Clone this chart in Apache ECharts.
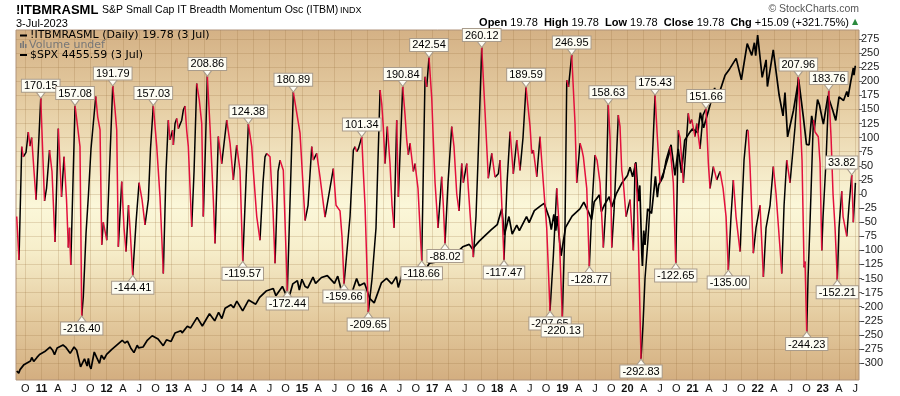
<!DOCTYPE html>
<html>
<head>
<meta charset="utf-8">
<script src="https://cdn.jsdelivr.net/npm/echarts@6/dist/echarts.min.js"></script>
<style>
html, body { margin: 0; padding: 0; background: #fff; }
#main { width: 900px; height: 396px; }
</style>
</head>
<body>
<div id="main"></div>
<script>
// oscillator, x in decimal years
var oscDates = [
	2010.619, 2010.654, 2010.696, 2010.720, 2010.762, 2010.797, 2010.823, 2010.849, 2010.885, 2010.916,
	2010.988, 2011.046, 2011.077, 2011.123, 2011.161, 2011.207, 2011.258, 2011.307, 2011.346, 2011.384,
	2011.412, 2011.430, 2011.449, 2011.515, 2011.591, 2011.618,
	2011.642, 2011.684, 2011.719, 2011.760, 2011.833, 2011.863, 2011.899, 2011.925, 2011.949, 2012.002,
	2012.094, 2012.129, 2012.155, 2012.180, 2012.232, 2012.267, 2012.298, 2012.336, 2012.359, 2012.401,
	2012.452, 2012.498, 2012.544, 2012.590, 2012.641, 2012.674, 2012.717, 2012.770, 2012.820, 2012.871,
	2012.912, 2012.948, 2012.974, 2013.012, 2013.025, 2013.051, 2013.077, 2013.101, 2013.154, 2013.178,
	2013.204, 2013.230, 2013.255, 2013.307, 2013.343, 2013.384, 2013.424, 2013.461, 2013.485, 2013.512,
	2013.547,
	2013.588, 2013.639, 2013.665, 2013.716, 2013.768, 2013.845, 2013.896, 2013.946, 2013.998, 2014.049,
	2014.091, 2014.177, 2014.229, 2014.253, 2014.306, 2014.356, 2014.402, 2014.433, 2014.459, 2014.510,
	2014.556, 2014.587, 2014.633, 2014.664, 2014.714, 2014.776, 2014.868,
	2014.971, 2015.048, 2015.094, 2015.151, 2015.175, 2015.227, 2015.278, 2015.355, 2015.401, 2015.482,
	2015.524, 2015.585, 2015.616, 2015.647, 2015.739, 2015.790, 2015.816, 2015.842, 2015.866, 2015.919,
	2015.943, 2015.969, 2016.020, 2016.077, 2016.138, 2016.200, 2016.226, 2016.250, 2016.277, 2016.312,
	2016.353, 2016.384, 2016.415, 2016.456, 2016.481, 2016.548, 2016.584, 2016.610, 2016.634, 2016.661,
	2016.711, 2016.737, 2016.783, 2016.840, 2016.891, 2016.917, 2016.952, 2016.994, 2017.018, 2017.045,
	2017.091, 2017.147, 2017.172, 2017.198, 2017.244, 2017.301, 2017.336, 2017.378, 2017.413, 2017.455,
	2017.479, 2017.532, 2017.556, 2017.598, 2017.633, 2017.674, 2017.705, 2017.762, 2017.813, 2017.863,
	2017.916, 2017.966, 2018.017, 2018.043, 2018.074, 2018.104, 2018.151, 2018.197, 2018.247, 2018.300,
	2018.350, 2018.396, 2018.442, 2018.504, 2018.530, 2018.555, 2018.607, 2018.657, 2018.708, 2018.760,
	2018.811, 2018.862, 2018.914, 2018.942, 2019.000, 2019.042, 2019.068, 2019.095, 2019.144, 2019.195,
	2019.221, 2019.272, 2019.298, 2019.323, 2019.375, 2019.415, 2019.456, 2019.502, 2019.533, 2019.579,
	2019.630, 2019.664, 2019.706, 2019.733, 2019.759, 2019.794, 2019.860, 2019.886, 2019.912, 2019.937,
	2019.979, 2020.040, 2020.091, 2020.117, 2020.147, 2020.171, 2020.209, 2020.240, 2020.270, 2020.316,
	2020.347, 2020.393, 2020.424, 2020.455, 2020.501, 2020.547, 2020.593, 2020.654, 2020.705, 2020.742,
	2020.782, 2020.808, 2020.859, 2020.885, 2020.935, 2020.962, 2020.988, 2021.038, 2021.065, 2021.115,
	2021.161, 2021.207, 2021.243, 2021.269, 2021.320, 2021.372, 2021.422, 2021.469, 2021.515, 2021.550,
	2021.591, 2021.627, 2021.668, 2021.730, 2021.760, 2021.791, 2021.833, 2021.853, 2021.883, 2021.934,
	2021.975, 2022.037, 2022.088, 2022.129, 2022.191, 2022.241, 2022.283, 2022.344, 2022.370, 2022.406,
	2022.447, 2022.498, 2022.575, 2022.625, 2022.682, 2022.713, 2022.728, 2022.754, 2022.774, 2022.805,
	2022.856, 2022.882, 2022.932, 2022.959, 2022.985, 2023.005, 2023.051, 2023.092, 2023.128, 2023.158,
	2023.189, 2023.224, 2023.250, 2023.292, 2023.312, 2023.369, 2023.404, 2023.445, 2023.470, 2023.502
];
var oscValues = [
	-40, -117, 84, 66, 74, 110, 85, 100, 40, -10,
	170.15, -12, 10, 78, 40, -85, 116, -5, 66, -10,
	-95, -60, -126, 157.08, 84, -216.40,
	-182, -69, -5, 80, 173, 137, 114, -90, -50, -82,
	191.79, 150, 114, -93.5, 22, -60, -102, -20, -60, -144.41,
	-50, 20, -10, -55, -10, 80, 157.03, 84, -5, -141,
	40, 131, 96, 113, 87, 125, 134, 116, 131, 149,
	156, 113, 84, -58, 40, 196, 166, 125, -40, 60,
	208.86,
	120, -10, -87.6, 102, 54, 131, 90, 25, 87, 42,
	-119.57, 124.38, 84, 42, -40, -82, 20, 66, 72, 66,
	-30, -123, 40, 60, 42, -172.44, 180.89,
	108, -47, -20, 84, 60, 72, 30, -41, -10, 45,
	-20, -30, -76, -159.66, -40, 78, 84, 75, 80, 101.34,
	40, -20, -209.65, -150, -60, 184.5, 160, 119, 54, 119.5,
	54, -20, -60, 131, -5, 190.84, 140, 96, 70, 90,
	40, 54, 10, -118.66, 208, 190, 242.54, 170, 96, 20,
	-60, 30.6, -20, -88.02, 20, 119.5, 84, 0, -30, 54,
	20, 54, 10, -60, -112, -40, 60, 260.12, 145, 28,
	72, 30, 36, 60, -30, -117.47, 20, 110.6, 36, 95.8,
	42, 100, 189.59, 120, 72, 78, 30.6, 101.6, 20, -60,
	-207.65, -110, 10, -40, -220.13, -50, 202, 190, 246.95, 125,
	20, 90, 80, 66, 10, -128.77, -20, 69, 60, 20,
	-94.8, -30, 158.63, 100, -95, -30, 140, 120, 42.5, 20,
	-40, -10, -100, 54, 0, -100, -292.83, -230, -150, -80,
	-20, 90, 175.43, 110, 20, 30, 60, 84, 20, -122.65,
	113, 100, 20, 60, 143, 125, 132, 102, 125, 80,
	140, 151.66, 54.4, 10, 48.5, 25, 40, 10, -40, -135,
	-40, 24.8, -40, -102, -20, 60, 113, 113, 50, -105,
	-60, -20, -147, -60, -20, 48.5, 0, -97, -141, -20,
	60, 20, 120, 207.96, 60, -130, -120, -244.23, -150, -50,
	131, 110, 101.6, 54, -100, -40, 60, 183.76, 100, 0,
	-60, -152.21, -60, 5, -40, -75, -20, 33.82, -50, 19.78
];

// $SPX overlay
var spxDates = [
	2010.62, 2010.65, 2010.67, 2010.70, 2010.73, 2010.76, 2010.79, 2010.83, 2010.85, 2010.88,
	2010.91, 2010.93, 2010.97, 2011.00, 2011.05, 2011.08, 2011.13, 2011.17, 2011.20, 2011.24,
	2011.33, 2011.37, 2011.40, 2011.44, 2011.47, 2011.50, 2011.54, 2011.57, 2011.60, 2011.63,
	2011.66, 2011.70, 2011.72, 2011.74, 2011.76, 2011.81, 2011.85, 2011.89, 2011.92, 2011.96,
	2012.00, 2012.08, 2012.16, 2012.24, 2012.28, 2012.32, 2012.37, 2012.42, 2012.47, 2012.49,
	2012.56, 2012.62, 2012.70, 2012.79, 2012.87, 2012.92, 2012.99, 2013.05, 2013.14, 2013.16,
	2013.24, 2013.29, 2013.39, 2013.47, 2013.58, 2013.66, 2013.72, 2013.77, 2013.82, 2013.91,
	2013.95, 2014.00, 2014.09, 2014.18, 2014.29, 2014.35, 2014.45, 2014.56, 2014.60, 2014.70,
	2014.79, 2014.86, 2014.93, 2014.96, 2015.00, 2015.05, 2015.09, 2015.17, 2015.21, 2015.30,
	2015.39, 2015.50, 2015.55, 2015.64, 2015.68, 2015.74, 2015.84, 2015.88, 2015.96, 2015.98,
	2016.04, 2016.06, 2016.11, 2016.22, 2016.30, 2016.38, 2016.45, 2016.48, 2016.55, 2016.62,
	2016.70, 2016.74, 2016.84, 2016.91, 2016.96, 2017.05, 2017.16, 2017.29, 2017.40, 2017.47,
	2017.57, 2017.62, 2017.72, 2017.82, 2017.91, 2018.00, 2018.07, 2018.11, 2018.18, 2018.23,
	2018.30, 2018.34, 2018.45, 2018.49, 2018.57, 2018.66, 2018.72, 2018.80, 2018.83, 2018.87,
	2018.90, 2018.92, 2018.98, 2019.05, 2019.15, 2019.27, 2019.33, 2019.41, 2019.45, 2019.49,
	2019.57, 2019.60, 2019.65, 2019.72, 2019.76, 2019.83, 2019.91, 2020.00, 2020.04, 2020.08,
	2020.13, 2020.17, 2020.19, 2020.22, 2020.23, 2020.25, 2020.27, 2020.31, 2020.37, 2020.43,
	2020.46, 2020.48, 2020.55, 2020.64, 2020.67, 2020.73, 2020.78, 2020.83, 2020.88, 2020.96,
	2021.00, 2021.08, 2021.12, 2021.17, 2021.25, 2021.34, 2021.37, 2021.50, 2021.57, 2021.67,
	2021.75, 2021.84, 2021.91, 2021.95, 2021.97, 2022.00, 2022.07, 2022.13, 2022.15, 2022.24,
	2022.33, 2022.39, 2022.42, 2022.46, 2022.55, 2022.63, 2022.70, 2022.75, 2022.79, 2022.83,
	2022.87, 2022.92, 2022.95, 2023.00, 2023.01, 2023.08, 2023.15, 2023.20, 2023.25, 2023.32,
	2023.37, 2023.39, 2023.43, 2023.47, 2023.48, 2023.50
];
var spxValues = [
	1075, 1050, 1090, 1110, 1145, 1140, 1170, 1185, 1225, 1180,
	1190, 1225, 1258, 1258, 1290, 1276, 1340, 1305, 1256, 1330,
	1363, 1340, 1345, 1270, 1268, 1340, 1305, 1292, 1120, 1140,
	1210, 1130, 1215, 1130, 1099, 1285, 1220, 1160, 1250, 1205,
	1258, 1315, 1365, 1415, 1385, 1405, 1330, 1278, 1360, 1330,
	1340, 1410, 1465, 1430, 1355, 1420, 1402, 1495, 1520, 1497,
	1570, 1552, 1669, 1573, 1709, 1630, 1725, 1655, 1770, 1808,
	1775, 1848, 1741, 1860, 1815, 1890, 1960, 1988, 1909, 2011,
	1862, 2040, 2075, 1972, 2090, 2010, 1995, 2115, 2045, 2110,
	2131, 2045, 2125, 1867, 1990, 1880, 2100, 2020, 2050, 2010,
	1880, 1860, 1829, 2050, 2100, 2040, 2120, 2000, 2175, 2190,
	2127, 2170, 2085, 2210, 2270, 2280, 2395, 2330, 2400, 2450,
	2477, 2425, 2510, 2580, 2640, 2695, 2873, 2581, 2785, 2590,
	2690, 2630, 2785, 2717, 2850, 2900, 2931, 2770, 2640, 2810,
	2630, 2790, 2351, 2665, 2790, 2870, 2945, 2822, 2750, 2950,
	3025, 2840, 2920, 3005, 2890, 3040, 3150, 3240, 3330, 3225,
	3386, 2954, 3130, 2386, 2237, 2630, 2470, 2870, 2820, 3230,
	3000, 3130, 3260, 3480, 3580, 3240, 3535, 3270, 3630, 3720,
	3756, 3714, 3935, 3768, 3970, 4210, 4063, 4350, 4420, 4537,
	4300, 4700, 4570, 4710, 4568, 4796, 4326, 4520, 4225, 4630,
	4131, 3900, 4158, 3667, 3960, 4305, 3900, 3585, 3577, 3900,
	3750, 4080, 4020, 3840, 3810, 4120, 3970, 3850, 4110, 4070,
	4170, 4110, 4280, 4430, 4350, 4455
];

// labelled extremes
var peakDates = [2010.988, 2011.515, 2012.094, 2012.717, 2013.547, 2014.177, 2014.868, 2015.919, 2016.548, 2016.952,
	2017.762, 2018.442, 2019.144, 2019.706, 2020.424, 2021.207, 2022.625, 2023.092, 2023.445];
var peakValues = [170.15, 157.08, 191.79, 157.03, 208.86, 124.38, 180.89, 101.34, 190.84, 242.54,
	260.12, 189.59, 246.95, 158.63, 175.43, 151.66, 207.96, 183.76, 33.82];
var troughDates = [2011.618, 2012.401, 2014.091, 2014.776, 2015.647, 2016.020, 2016.840, 2017.198, 2018.104, 2018.811,
	2019.000, 2019.415, 2020.209, 2020.742, 2021.550, 2022.754, 2023.224];
var troughValues = [-216.40, -144.41, -119.57, -172.44, -159.66, -209.65, -118.66, -88.02, -117.47, -207.65,
	-220.13, -128.77, -292.83, -122.65, -135.00, -244.23, -152.21];

// axis ticks
var xTickValues = [2010.75,
	2011, 2011.25, 2011.5, 2011.75, 2012, 2012.25, 2012.5, 2012.75, 2013, 2013.25, 2013.5, 2013.75,
	2014, 2014.25, 2014.5, 2014.75, 2015, 2015.25, 2015.5, 2015.75, 2016, 2016.25, 2016.5, 2016.75,
	2017, 2017.25, 2017.5, 2017.75, 2018, 2018.25, 2018.5, 2018.75, 2019, 2019.25, 2019.5, 2019.75,
	2020, 2020.25, 2020.5, 2020.75, 2021, 2021.25, 2021.5, 2021.75, 2022, 2022.25, 2022.5, 2022.75,
	2023, 2023.25, 2023.5];
var xTickLabels = ['O',
	'11', 'A', 'J', 'O', '12', 'A', 'J', 'O', '13', 'A', 'J', 'O',
	'14', 'A', 'J', 'O', '15', 'A', 'J', 'O', '16', 'A', 'J', 'O',
	'17', 'A', 'J', 'O', '18', 'A', 'J', 'O', '19', 'A', 'J', 'O',
	'20', 'A', 'J', 'O', '21', 'A', 'J', 'O', '22', 'A', 'J', 'O',
	'23', 'A', 'J'];
var yTickValues = [-300, -275, -250, -225, -200, -175, -150, -125, -100, -75, -50, -25,
	0, 25, 50, 75, 100, 125, 150, 175, 200, 225, 250, 275];

// split the oscillator into rising (black) and falling (red) pieces
function segments(rising) {
	var out = [];
	var lastIdx = -2;
	for (var i = 1; i < oscDates.length; i++) {
		var up = oscValues[i] >= oscValues[i - 1];
		if (up !== rising) continue;
		if (lastIdx !== i - 1) {
			if (out.length) out.push([oscDates[i - 1], '-']);
			out.push([oscDates[i - 1], oscValues[i - 1]]);
		}
		out.push([oscDates[i], oscValues[i]]);
		lastIdx = i;
	}
	return out;
}

var spxData = [];
for (var i = 0; i < spxDates.length; i++) {
	spxData.push([spxDates[i], spxValues[i]]);
}

var peakData = [];
for (var i = 0; i < peakDates.length; i++) {
	var item = { value: [peakDates[i], peakValues[i]] };
	// last box is pushed left so it stays inside the plot
	if (i === peakDates.length - 1) item.label = { offset: [-10, 0] };
	peakData.push(item);
}
var troughData = [];
for (var i = 0; i < troughDates.length; i++) {
	troughData.push({ value: [troughDates[i], troughValues[i]] });
}

var boxFill = '#fdfcf2';
var boxLine = '#a99c8c';
var labelFont = '"Liberation Sans Narrow", "Liberation Sans", Arial, sans-serif';
var boxLabel = {
	show: true,
	distance: 0,
	formatter: function (p) { return p.value[1].toFixed(2); },
	backgroundColor: boxFill,
	borderColor: boxLine,
	borderWidth: 1,
	padding: [1, 2, 0, 2],
	color: '#000',
	fontSize: 11,
	lineHeight: 11,
	fontFamily: labelFont
};

var myChart = echarts.init(document.getElementById('main'));

var option = {
	animation: false,
	grid: {
		left: 16,
		right: 41,
		top: 30,
		bottom: 16,
		show: true,
		borderColor: '#b0937a',
		borderWidth: 1,
		backgroundColor: {
			type: 'linear', x: 0, y: 0, x2: 0, y2: 1,
			colorStops: [
				{ offset: 0, color: '#d4b185' },
				{ offset: 0.22, color: '#e6cea4' },
				{ offset: 0.5, color: '#fbf7d9' },
				{ offset: 0.62, color: '#f7efcc' },
				{ offset: 0.82, color: '#e4cb9f' },
				{ offset: 1, color: '#d3ae80' }
			]
		}
	},
	xAxis: {
		type: 'value',
		min: 2010.608,
		max: 2023.557,
		axisLine: { show: false },
		axisTick: { show: false, customValues: xTickValues },
		axisLabel: {
			customValues: xTickValues,
			margin: 3,
			color: '#111',
			fontSize: 11,
			fontFamily: '"Liberation Sans", Arial, sans-serif',
			formatter: function (v) {
				for (var j = 0; j < xTickValues.length; j++) {
					if (Math.abs(xTickValues[j] - v) < 1e-6) {
						var s = xTickLabels[j];
						return /\d/.test(s) ? '{y|' + s + '}' : s;
					}
				}
				return '';
			},
			rich: { y: { fontWeight: 'bold', fontSize: 11 } }
		},
		splitLine: { show: true, lineStyle: { color: 'rgba(150,110,60,0.22)', width: 1 } }
	},
	yAxis: [{
		type: 'value',
		position: 'right',
		min: -330,
		max: 291,
		axisLine: { show: false },
		axisTick: { show: true, length: 3, customValues: yTickValues, lineStyle: { color: '#666' } },
		axisLabel: {
			customValues: yTickValues,
			margin: 2,
			color: '#222',
			fontSize: 11,
			fontFamily: '"Liberation Sans", Arial, sans-serif'
		},
		splitLine: { show: true, lineStyle: { color: 'rgba(150,110,60,0.22)', width: 1 } }
	}, {
		type: 'value',
		show: false,
		min: 975,
		max: 4851
	}],
	graphic: [
		{ type: 'text', x: 16, y: 10.5, z: 100, style: { text: '!ITBMRASML', font: 'bold 13px "Liberation Sans", Arial', fill: '#000', verticalAlign: 'middle' } },
		{ type: 'text', x: 102, y: 10.5, z: 100, style: { text: 'S&P Small Cap IT Breadth Momentum Osc (ITBM)', font: '10.5px "Liberation Sans", Arial', fill: '#000', verticalAlign: 'middle' } },
		{ type: 'text', x: 340, y: 11, z: 100, style: { text: 'INDX', font: '9px "Liberation Sans", Arial', fill: '#000', verticalAlign: 'middle' } },
		{ type: 'text', x: 16, y: 23.5, z: 100, style: { text: '3-Jul-2023', font: '11px "Liberation Sans", Arial', fill: '#000', verticalAlign: 'middle' } },
		{ type: 'text', x: 859, y: 9, z: 100, style: { text: '\u00a9 StockCharts.com', font: '10.5px "Liberation Sans", Arial', fill: '#555', align: 'right', verticalAlign: 'middle' } },
		{
			type: 'text', x: 849, y: 22.5, z: 100,
			style: {
				text: '{b|Open} 19.78  {b|High} 19.78  {b|Low} 19.78  {b|Close} 19.78  {b|Chg} +15.09 (+321.75%)',
				font: '11px "Liberation Sans", Arial', fill: '#000', align: 'right', verticalAlign: 'middle',
				rich: { b: { fontWeight: 'bold', fontSize: 11, fontFamily: '"Liberation Sans", Arial' } }
			}
		},
		{ type: 'text', x: 855, y: 22, z: 100, style: { text: '\u25b2', font: '8px "DejaVu Sans"', fill: '#2b8a3e', align: 'center', verticalAlign: 'middle' } },
		// legend inside the plot
		{ type: 'rect', z: 100, shape: { x: 20, y: 34.5, width: 7, height: 2 }, style: { fill: '#000' } },
		{ type: 'text', x: 30, y: 35.5, z: 100, style: { text: '!ITBMRASML (Daily) 19.78 (3 Jul)', font: '11px "DejaVu Sans"', fill: '#000', verticalAlign: 'middle' } },
		{ type: 'rect', z: 100, shape: { x: 20, y: 43, width: 1.5, height: 5 }, style: { fill: '#777' } },
		{ type: 'rect', z: 100, shape: { x: 22.5, y: 41, width: 1.5, height: 7 }, style: { fill: '#777' } },
		{ type: 'rect', z: 100, shape: { x: 25, y: 44, width: 1.5, height: 4 }, style: { fill: '#777' } },
		{ type: 'text', x: 29, y: 45.5, z: 100, style: { text: 'Volume undef', font: '11px "DejaVu Sans"', fill: '#777', verticalAlign: 'middle' } },
		{ type: 'rect', z: 100, shape: { x: 20, y: 54, width: 7, height: 2 }, style: { fill: '#000' } },
		{ type: 'text', x: 30, y: 55, z: 100, style: { text: '$SPX 4455.59 (3 Jul)', font: '11px "DejaVu Sans"', fill: '#000', verticalAlign: 'middle' } }
	],
	series: [{
		name: '$SPX',
		type: 'line',
		yAxisIndex: 1,
		data: spxData,
		showSymbol: false,
		silent: true,
		lineStyle: { color: '#000', width: 1.7 },
		z: 2
	}, {
		name: 'up',
		type: 'line',
		data: segments(true),
		showSymbol: false,
		silent: true,
		lineStyle: { color: '#000', width: 1.5 },
		z: 3
	}, {
		name: 'down',
		type: 'line',
		data: segments(false),
		showSymbol: false,
		silent: true,
		lineStyle: { color: '#e3103d', width: 1.5 },
		z: 4
	}, {
		name: 'peaks',
		type: 'scatter',
		data: peakData,
		symbol: 'path://M0,0L10,0L5,6Z',
		symbolSize: [9, 6],
		symbolOffset: [0, '-50%'],
		itemStyle: { color: boxFill, borderColor: boxLine, borderWidth: 1, opacity: 1 },
		label: Object.assign({ position: 'top' }, boxLabel),
		silent: true,
		z: 10
	}, {
		name: 'troughs',
		type: 'scatter',
		data: troughData,
		symbol: 'path://M5,0L10,6L0,6Z',
		symbolSize: [9, 6],
		symbolOffset: [0, '50%'],
		itemStyle: { color: boxFill, borderColor: boxLine, borderWidth: 1, opacity: 1 },
		label: Object.assign({ position: 'bottom' }, boxLabel),
		silent: true,
		z: 10
	}]
};

myChart.setOption(option);
</script>
</body>
</html>
